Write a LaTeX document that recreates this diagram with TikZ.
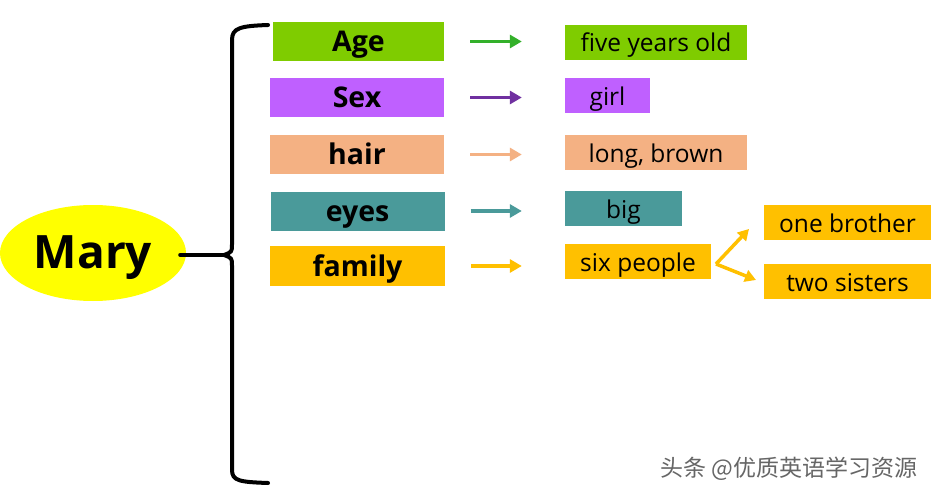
\documentclass[tikz,border=0pt]{standalone}
\usepackage{fontspec}
\setmainfont{Open Sans}
\newfontfamily\cjk{Noto Sans CJK SC}
\usetikzlibrary{shapes.geometric,arrows.meta,calc}
\definecolor{cAge}{HTML}{7FCC00}
\definecolor{cAgeA}{HTML}{33B02A}
\definecolor{cSex}{HTML}{BF60FF}
\definecolor{cSexA}{HTML}{7030A0}
\definecolor{cHair}{HTML}{F4B183}
\definecolor{cEyes}{HTML}{4A9A9A}
\definecolor{cFam}{HTML}{FFC000}
\definecolor{cMary}{HTML}{FFFF00}
\tikzset{
  keybox/.style={inner sep=0pt, minimum width=174pt, minimum height=39pt,
    text height=21pt, text depth=0pt,
    font=\fontsize{28.5}{30}\selectfont\bfseries, text=black},
  valbox/.style={inner sep=0pt, minimum height=35pt,
    text height=19pt, text depth=0pt,
    font=\fontsize{24.5}{26}\selectfont, text=black},
  arr/.style={line width=3.5pt, -{Triangle[length=12pt,width=13pt]}},
  farr/.style={line width=3.5pt, draw=cFam, -{Triangle[length=11pt,width=12pt]}},
  brace/.style={line width=4pt, line cap=round, line join=round}
}
\begin{document}
\begin{tikzpicture}[x=1pt,y=-1pt]
\useasboundingbox (0,0) rectangle (936,497);
\fill[white] (0,0) rectangle (936,497);

% Mary
\node[ellipse, fill=cMary, minimum width=186pt, minimum height=96pt, inner sep=0pt,
  text height=30pt, text depth=0pt,
  font=\fontsize{46}{50}\selectfont\bfseries] (mary) at (93,253) {Mary};

% bracket
\coordinate (cusp) at (224,255);
\coordinate (btop) at (268,25);
\coordinate (bbot) at (268,483);
\draw[brace] (btop) .. controls (240,26) and (232,28) .. (232,40) -- (232,244)
  .. controls (232,252) .. (cusp) .. controls (232,258) .. (232,266) -- (232,470)
  .. controls (232,481) and (240,482) .. (bbot);
\draw[brace] (mary.east) ++(-6,2) coordinate (mstart) -- (cusp);

% left boxes
\node[keybox, fill=cAge, minimum width=171pt] (age) at (358.5,41.5) {Age};
\node[keybox, fill=cSex] (sex) at (357,97.5) {Sex};
\node[keybox, fill=cHair] (hair) at (357,154.5) {hair};
\node[keybox, fill=cEyes] (eyes) at (357.5,211) {eyes};
\node[keybox, fill=cFam, minimum width=175pt, minimum height=40pt] (fam) at (357.5,266) {family};

% right boxes
\node[valbox, fill=cAge, minimum width=182pt] (ageval) at (656,42.5) {five years old};
\node[valbox, fill=cSex, minimum width=85pt] (sexval) at (607.5,96) {girl};
\node[valbox, fill=cHair, minimum width=182pt] (hairval) at (656,153) {long, brown};
\node[valbox, fill=cEyes, minimum width=117pt] (eyesval) at (623.5,208.5) {big};
\node[valbox, fill=cFam, minimum width=146pt] (famval) at (638,261.5) {six people};
\node[valbox, fill=cFam, minimum width=167pt] (bro) at (847.5,222.5) {one brother};
\node[valbox, fill=cFam, minimum width=167pt] (sis) at (847.5,281.5) {two sisters};

% arrows
\draw[arr, draw=cAgeA, shorten <=26pt, shorten >=43pt] (age.east) -- (age.east -| ageval.west);
\draw[arr, draw=cSexA, shorten <=26pt, shorten >=43pt] (sex.east) -- (sex.east -| sexval.west);
\draw[arr, draw=cHair, shorten <=26pt, shorten >=43pt] (hair.east) -- (hair.east -| hairval.west);
\draw[arr, draw=cEyes, shorten <=26pt, shorten >=43pt] (eyes.east) -- (eyes.east -| eyesval.west);
\draw[arr, draw=cFam, shorten <=26pt, shorten >=43pt] (fam.east) -- (fam.east -| famval.west);

% fork
\coordinate (fork) at (716,264);
\coordinate (tipA) at (749,229);
\coordinate (tipB) at (756,280);
\draw[farr] (fork) -- (tipA);
\draw[farr] (fork) -- (tipB);

% watermark
\node[font=\cjk\fontsize{23}{26}\selectfont, text=black!60, anchor=east] (wm) at (921,469) {头条 @优质英语学习资源};
\end{tikzpicture}
\end{document}
